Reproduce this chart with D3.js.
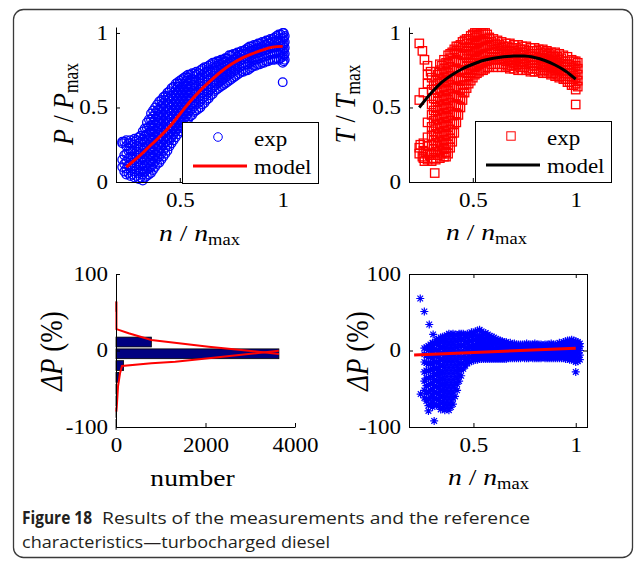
<!DOCTYPE html>
<html>
<head>
<meta charset="utf-8">
<script src="https://cdn.jsdelivr.net/npm/d3@7"></script>
<style>
  body { margin: 0; background: #fff; }
  svg { display: block; }
</style>
</head>
<body>
<svg id="fig" width="637" height="563"></svg>
<script>
// ---------------- measured data ----------------
// Power: columns of [n/nmax, [P/Pmax readings]]
const powerCols = [
  [0.22, [0.10, 0.15, 0.26, 0.27]],
  [0.23, [0.07, 0.12, 0.18, 0.27]],
  [0.24, [0.05, 0.09, 0.14, 0.19, 0.24, 0.28]],
  [0.26, [0.04, 0.08, 0.12, 0.17, 0.21, 0.26, 0.28]],
  [0.28, [0.03, 0.07, 0.11, 0.15, 0.19, 0.23, 0.27, 0.29]],
  [0.30, [0.02, 0.06, 0.10, 0.14, 0.18, 0.22, 0.26, 0.30]],
  [0.32, [0.01, 0.05, 0.09, 0.13, 0.17, 0.21, 0.25, 0.29, 0.34]],
  [0.34, [0.04, 0.08, 0.12, 0.16, 0.20, 0.24, 0.28, 0.32, 0.36, 0.40]],
  [0.36, [0.06, 0.10, 0.14, 0.18, 0.22, 0.26, 0.30, 0.34, 0.38, 0.42, 0.46]],
  [0.38, [0.10, 0.14, 0.18, 0.22, 0.26, 0.30, 0.34, 0.38, 0.42, 0.46, 0.50]],
  [0.40, [0.13, 0.17, 0.21, 0.25, 0.29, 0.33, 0.37, 0.41, 0.45, 0.49, 0.54]],
  [0.42, [0.17, 0.21, 0.25, 0.29, 0.33, 0.37, 0.41, 0.45, 0.49, 0.53, 0.57]],
  [0.44, [0.21, 0.25, 0.29, 0.33, 0.37, 0.41, 0.45, 0.49, 0.53, 0.57, 0.60]],
  [0.46, [0.26, 0.30, 0.34, 0.38, 0.42, 0.46, 0.50, 0.54, 0.58, 0.63]],
  [0.48, [0.30, 0.34, 0.38, 0.42, 0.46, 0.50, 0.54, 0.58, 0.62, 0.66]],
  [0.50, [0.34, 0.38, 0.42, 0.46, 0.50, 0.54, 0.58, 0.62, 0.66, 0.68]],
  [0.52, [0.38, 0.42, 0.46, 0.50, 0.54, 0.58, 0.62, 0.66, 0.70]],
  [0.54, [0.42, 0.46, 0.50, 0.54, 0.58, 0.62, 0.66, 0.70, 0.72]],
  [0.56, [0.45, 0.49, 0.53, 0.57, 0.61, 0.65, 0.69, 0.73]],
  [0.58, [0.48, 0.52, 0.56, 0.60, 0.64, 0.68, 0.72, 0.74]],
  [0.60, [0.50, 0.54, 0.58, 0.62, 0.66, 0.70, 0.75]],
  [0.62, [0.53, 0.57, 0.61, 0.65, 0.69, 0.73, 0.77]],
  [0.64, [0.56, 0.60, 0.64, 0.68, 0.72, 0.75, 0.78]],
  [0.66, [0.59, 0.63, 0.67, 0.71, 0.75, 0.80]],
  [0.68, [0.62, 0.66, 0.70, 0.74, 0.78, 0.81]],
  [0.70, [0.64, 0.68, 0.72, 0.76, 0.79, 0.82]],
  [0.72, [0.66, 0.70, 0.74, 0.78, 0.81, 0.83]],
  [0.74, [0.68, 0.72, 0.76, 0.80, 0.85]],
  [0.76, [0.70, 0.74, 0.78, 0.82, 0.86]],
  [0.78, [0.72, 0.76, 0.80, 0.84, 0.87]],
  [0.80, [0.74, 0.78, 0.82, 0.85, 0.88]],
  [0.82, [0.75, 0.79, 0.83, 0.86, 0.89]],
  [0.84, [0.76, 0.80, 0.84, 0.88, 0.91]],
  [0.86, [0.78, 0.82, 0.86, 0.89, 0.92]],
  [0.88, [0.79, 0.83, 0.87, 0.90, 0.93]],
  [0.90, [0.80, 0.84, 0.88, 0.91, 0.94]],
  [0.92, [0.81, 0.85, 0.89, 0.92, 0.95]],
  [0.94, [0.82, 0.86, 0.90, 0.93, 0.96]],
  [0.96, [0.82, 0.86, 0.90, 0.94, 0.97]],
  [0.98, [0.82, 0.86, 0.90, 0.94, 0.99]],
  [1.00, [0.67, 0.80, 0.84, 0.88, 0.92, 0.96, 1.00]],
  [1.01, [0.82, 0.86, 0.90, 0.94, 0.98]]
];
const powerColsMid = [
  [0.25, [0.06, 0.11, 0.16, 0.21, 0.26]],
  [0.27, [0.05, 0.09, 0.13, 0.17, 0.21, 0.25]],
  [0.29, [0.04, 0.08, 0.12, 0.16, 0.20, 0.24, 0.28]],
  [0.31, [0.03, 0.07, 0.11, 0.15, 0.19, 0.23, 0.27, 0.31]],
  [0.33, [0.03, 0.07, 0.11, 0.15, 0.19, 0.23, 0.27, 0.31, 0.36]],
  [0.35, [0.05, 0.09, 0.13, 0.17, 0.21, 0.25, 0.29, 0.33, 0.37, 0.42]],
  [0.37, [0.08, 0.12, 0.16, 0.20, 0.24, 0.28, 0.32, 0.36, 0.40, 0.44, 0.48]],
  [0.39, [0.12, 0.16, 0.20, 0.24, 0.28, 0.32, 0.36, 0.40, 0.44, 0.48, 0.52]],
  [0.41, [0.15, 0.19, 0.23, 0.27, 0.31, 0.35, 0.39, 0.43, 0.47, 0.51, 0.55]],
  [0.43, [0.19, 0.23, 0.27, 0.31, 0.35, 0.39, 0.43, 0.47, 0.51, 0.55, 0.58]],
  [0.45, [0.24, 0.28, 0.32, 0.36, 0.40, 0.44, 0.48, 0.52, 0.56, 0.61]],
  [0.47, [0.28, 0.32, 0.36, 0.40, 0.44, 0.48, 0.52, 0.56, 0.60, 0.64]],
  [0.49, [0.32, 0.36, 0.40, 0.44, 0.48, 0.52, 0.56, 0.60, 0.64, 0.67]],
  [0.51, [0.36, 0.40, 0.44, 0.48, 0.52, 0.56, 0.60, 0.64, 0.69]],
  [0.53, [0.40, 0.44, 0.48, 0.52, 0.56, 0.60, 0.64, 0.68, 0.71]],
  [0.55, [0.44, 0.48, 0.52, 0.56, 0.60, 0.64, 0.68, 0.72]],
  [0.57, [0.47, 0.51, 0.55, 0.59, 0.63, 0.67, 0.71, 0.73]],
  [0.59, [0.49, 0.53, 0.57, 0.61, 0.65, 0.69, 0.73]],
  [0.61, [0.52, 0.56, 0.60, 0.64, 0.68, 0.72, 0.76]],
  [0.63, [0.55, 0.59, 0.63, 0.67, 0.71, 0.74, 0.77]],
  [0.65, [0.58, 0.62, 0.66, 0.70, 0.74, 0.79]],
  [0.67, [0.61, 0.65, 0.69, 0.73, 0.77, 0.80]],
  [0.69, [0.63, 0.67, 0.71, 0.75, 0.79, 0.81]],
  [0.71, [0.65, 0.69, 0.73, 0.77, 0.80, 0.82]],
  [0.73, [0.67, 0.71, 0.75, 0.79, 0.83]],
  [0.75, [0.69, 0.73, 0.77, 0.81, 0.85]],
  [0.77, [0.71, 0.75, 0.79, 0.83, 0.86]],
  [0.79, [0.73, 0.77, 0.81, 0.85, 0.87]],
  [0.81, [0.74, 0.78, 0.82, 0.86, 0.88]],
  [0.83, [0.75, 0.79, 0.83, 0.87, 0.90]],
  [0.85, [0.77, 0.81, 0.85, 0.88, 0.91]],
  [0.87, [0.78, 0.82, 0.86, 0.89, 0.92]],
  [0.89, [0.79, 0.83, 0.87, 0.90, 0.93]],
  [0.91, [0.80, 0.84, 0.88, 0.92, 0.94]],
  [0.93, [0.81, 0.85, 0.89, 0.93, 0.95]],
  [0.95, [0.82, 0.86, 0.90, 0.94, 0.96]],
  [0.97, [0.83, 0.87, 0.91, 0.95, 0.98]],
  [0.99, [0.83, 0.87, 0.91, 0.95, 0.99]],
  [1.005, [0.81, 0.85, 0.89, 0.93, 0.97, 1.00]]
];
const powerModel = [
  [0.24, 0.10], [0.27, 0.135], [0.30, 0.17], [0.35, 0.235], [0.40, 0.30],
  [0.45, 0.37], [0.50, 0.455], [0.55, 0.54], [0.60, 0.615], [0.65, 0.68],
  [0.70, 0.74], [0.75, 0.79], [0.80, 0.83], [0.85, 0.86], [0.90, 0.885],
  [0.95, 0.905], [1.00, 0.91]
];

// Torque: columns of [n/nmax, [T/Tmax readings]] plus isolated readings
const torqueCols = [
  [0.24, [0.19, 0.23, 0.55]],
  [0.26, [0.16, 0.21, 0.26, 0.60]],
  [0.28, [0.15, 0.19, 0.24, 0.30, 0.40, 0.66, 0.72]],
  [0.30, [0.14, 0.19, 0.25, 0.31, 0.37, 0.45, 0.52, 0.62, 0.70]],
  [0.32, [0.15, 0.20, 0.26, 0.32, 0.38, 0.44, 0.50, 0.56, 0.62, 0.68, 0.74]],
  [0.34, [0.16, 0.21, 0.27, 0.33, 0.39, 0.45, 0.51, 0.57, 0.63, 0.69, 0.75, 0.79]],
  [0.36, [0.17, 0.22, 0.28, 0.34, 0.40, 0.46, 0.52, 0.58, 0.64, 0.70, 0.76, 0.82]],
  [0.38, [0.19, 0.25, 0.31, 0.37, 0.43, 0.49, 0.55, 0.61, 0.67, 0.73, 0.79, 0.85]],
  [0.40, [0.27, 0.33, 0.39, 0.45, 0.51, 0.57, 0.63, 0.69, 0.75, 0.81, 0.87]],
  [0.42, [0.40, 0.46, 0.52, 0.58, 0.64, 0.70, 0.76, 0.82, 0.88, 0.91]],
  [0.44, [0.50, 0.56, 0.62, 0.68, 0.74, 0.80, 0.86, 0.92]],
  [0.46, [0.60, 0.65, 0.70, 0.75, 0.80, 0.85, 0.90, 0.95]],
  [0.48, [0.66, 0.71, 0.76, 0.81, 0.86, 0.91, 0.96]],
  [0.50, [0.70, 0.75, 0.80, 0.85, 0.90, 0.95, 0.99]],
  [0.52, [0.73, 0.78, 0.83, 0.88, 0.93, 0.98, 1.00]],
  [0.54, [0.75, 0.80, 0.85, 0.90, 0.95, 1.00]],
  [0.56, [0.76, 0.81, 0.86, 0.91, 0.96, 1.00]],
  [0.58, [0.77, 0.82, 0.87, 0.92, 0.97]],
  [0.60, [0.77, 0.82, 0.87, 0.92, 0.96]],
  [0.62, [0.77, 0.82, 0.87, 0.91, 0.95]],
  [0.64, [0.77, 0.82, 0.86, 0.90, 0.94]],
  [0.66, [0.77, 0.81, 0.85, 0.89, 0.93]],
  [0.68, [0.76, 0.80, 0.84, 0.88, 0.93]],
  [0.70, [0.76, 0.80, 0.84, 0.88, 0.92]],
  [0.72, [0.75, 0.79, 0.83, 0.87, 0.92]],
  [0.74, [0.75, 0.79, 0.83, 0.87, 0.91]],
  [0.76, [0.75, 0.79, 0.83, 0.87, 0.91]],
  [0.78, [0.74, 0.78, 0.82, 0.86, 0.90]],
  [0.80, [0.74, 0.78, 0.82, 0.86, 0.90]],
  [0.82, [0.74, 0.78, 0.82, 0.86, 0.89]],
  [0.84, [0.73, 0.77, 0.81, 0.85, 0.89]],
  [0.86, [0.73, 0.77, 0.81, 0.85, 0.88]],
  [0.88, [0.72, 0.76, 0.80, 0.84, 0.87]],
  [0.90, [0.71, 0.75, 0.79, 0.83, 0.87]],
  [0.92, [0.70, 0.74, 0.78, 0.82, 0.86]],
  [0.94, [0.69, 0.73, 0.77, 0.81, 0.85]],
  [0.96, [0.67, 0.71, 0.75, 0.79, 0.84]],
  [0.98, [0.65, 0.69, 0.73, 0.77, 0.82]],
  [1.00, [0.52, 0.62, 0.66, 0.70, 0.74, 0.78, 0.81]],
  [1.01, [0.64, 0.68, 0.72, 0.76, 0.80]]
];
const torqueColsMid = [
  [0.31, [0.16, 0.22, 0.28, 0.34, 0.41, 0.48, 0.56, 0.65]],
  [0.33, [0.18, 0.24, 0.30, 0.36, 0.42, 0.48, 0.54, 0.60, 0.66, 0.72]],
  [0.35, [0.19, 0.25, 0.31, 0.37, 0.43, 0.49, 0.55, 0.61, 0.67, 0.73, 0.78]],
  [0.37, [0.20, 0.26, 0.32, 0.38, 0.44, 0.50, 0.56, 0.62, 0.68, 0.74, 0.80]],
  [0.39, [0.23, 0.29, 0.35, 0.41, 0.47, 0.53, 0.59, 0.65, 0.71, 0.77, 0.83, 0.86]],
  [0.41, [0.33, 0.39, 0.45, 0.51, 0.57, 0.63, 0.69, 0.75, 0.81, 0.86, 0.89]],
  [0.43, [0.45, 0.51, 0.57, 0.63, 0.69, 0.75, 0.81, 0.87, 0.91]],
  [0.45, [0.55, 0.60, 0.65, 0.70, 0.75, 0.80, 0.85, 0.90, 0.94]],
  [0.47, [0.63, 0.68, 0.73, 0.78, 0.83, 0.88, 0.93, 0.96]],
  [0.49, [0.68, 0.73, 0.78, 0.83, 0.88, 0.93, 0.98]],
  [0.51, [0.72, 0.77, 0.82, 0.87, 0.92, 0.97, 1.00]],
  [0.53, [0.74, 0.79, 0.84, 0.89, 0.94, 0.99]],
  [0.55, [0.75, 0.80, 0.85, 0.90, 0.95, 1.00]],
  [0.57, [0.77, 0.81, 0.86, 0.91, 0.96, 0.99]],
  [0.59, [0.79, 0.84, 0.89, 0.94]],
  [0.61, [0.79, 0.84, 0.89, 0.93]],
  [0.63, [0.79, 0.84, 0.88, 0.92]],
  [0.65, [0.79, 0.83, 0.87, 0.91]],
  [0.67, [0.78, 0.82, 0.86, 0.91]],
  [0.69, [0.78, 0.82, 0.86, 0.90]],
  [0.71, [0.78, 0.82, 0.86, 0.90]],
  [0.73, [0.77, 0.81, 0.85, 0.89]],
  [0.75, [0.77, 0.81, 0.85, 0.89]],
  [0.77, [0.76, 0.80, 0.84, 0.88]],
  [0.79, [0.76, 0.80, 0.84, 0.88]],
  [0.81, [0.76, 0.80, 0.84, 0.88]],
  [0.83, [0.75, 0.79, 0.83, 0.87]],
  [0.85, [0.75, 0.79, 0.83, 0.87]],
  [0.87, [0.74, 0.78, 0.82, 0.86]],
  [0.89, [0.73, 0.77, 0.81, 0.85]],
  [0.91, [0.72, 0.76, 0.80, 0.84]],
  [0.93, [0.71, 0.75, 0.79, 0.83]],
  [0.95, [0.69, 0.73, 0.77, 0.81]],
  [0.97, [0.67, 0.71, 0.75, 0.79]],
  [0.99, [0.65, 0.69, 0.73, 0.77, 0.81]]
];
const torqueExtra = [
  [0.24, 0.93], [0.255, 0.88], [0.265, 0.82], [0.28, 0.78], [0.295, 0.74],
  [0.315, 0.06], [0.245, 0.25], [0.255, 0.17], [0.265, 0.14], [0.27, 0.20],
  [0.29, 0.18], [0.37, 0.20], [0.37, 0.17], [0.36, 0.23]
];
const torqueModel = [
  [0.24, 0.50], [0.30, 0.60], [0.35, 0.67], [0.40, 0.72], [0.45, 0.76],
  [0.50, 0.79], [0.55, 0.815], [0.60, 0.83], [0.65, 0.84], [0.70, 0.845],
  [0.75, 0.845], [0.80, 0.835], [0.85, 0.815], [0.90, 0.785], [0.95, 0.745],
  [1.00, 0.69]
];

// Histogram of the power error
const histCenters = [57.3, 41.9, 26.5, 11.1, -4.3, -19.7, -35.1, -50.5, -65.9, -81.3, -96.7];
const histCounts  = [8, 0, 0, 790, 3640, 170, 60, 20, 8, 6, 3];
const histUpper = [[10, 64], [10, 28], [283, 22.5], [790, 13.7], [2070, 5], [2960, -0.3], [3640, -4.6]];
const histLower = [[3640, -0.3], [2960, -4.6], [2070, -10.2], [1324, -14.6], [790, -16.7],
                   [134, -20.3], [90, -29.8], [45, -47], [18, -73], [8, -80]];

// Power error vs speed: columns of [n/nmax, [ΔP %]] plus isolated readings
const errCols = [
  [0.26, [-62, -52, -40, -28, -15, -5, 3]],
  [0.28, [-72, -63, -54, -45, -36, -27, -18, -9, 0, 6]],
  [0.30, [-74, -66, -58, -50, -42, -34, -26, -18, -10, -2, 6, 10]],
  [0.32, [-71, -63, -55, -47, -39, -31, -23, -15, -7, 1, 9, 14]],
  [0.34, [-77, -69, -61, -53, -45, -37, -29, -21, -13, -5, 3, 11, 17]],
  [0.36, [-78, -70, -62, -54, -46, -38, -30, -22, -14, -6, 2, 10, 18]],
  [0.38, [-78, -70, -62, -54, -46, -38, -30, -22, -14, -6, 2, 10, 18, 22]],
  [0.40, [-70, -62, -54, -46, -38, -30, -22, -14, -6, 2, 10, 18, 22]],
  [0.42, [-52, -44, -36, -28, -20, -12, -4, 4, 12, 20]],
  [0.44, [-33, -25, -17, -9, -1, 7, 15, 22]],
  [0.46, [-20, -12, -4, 4, 12, 20]],
  [0.48, [-15, -8, -1, 6, 13, 21]],
  [0.50, [-13, -6, 1, 8, 15, 23]],
  [0.52, [-12, -5, 2, 9, 16, 26]],
  [0.54, [-11, -4, 3, 10, 17, 25]],
  [0.56, [-11, -4, 3, 10, 17, 23]],
  [0.58, [-11, -4, 3, 10, 19]],
  [0.60, [-11, -4, 3, 10, 17]],
  [0.62, [-11, -4, 3, 9, 14]],
  [0.64, [-11, -4, 3, 8, 12]],
  [0.66, [-11, -5, 1, 6, 11]],
  [0.68, [-10, -4, 2, 7, 10]],
  [0.70, [-10, -4, 2, 7, 9]],
  [0.72, [-10, -3, 3, 8]],
  [0.74, [-9, -4, 2, 8]],
  [0.76, [-10, -4, 2, 7, 9]],
  [0.78, [-9, -3, 3, 8]],
  [0.80, [-10, -4, 2, 7, 9]],
  [0.82, [-10, -3, 3, 8]],
  [0.84, [-9, -4, 2, 7]],
  [0.86, [-10, -4, 2, 8]],
  [0.88, [-10, -3, 3, 9]],
  [0.90, [-10, -4, 2, 8]],
  [0.92, [-10, -4, 2, 7, 10]],
  [0.94, [-10, -4, 2, 7, 11]],
  [0.96, [-11, -5, 1, 7, 13]],
  [0.98, [-12, -6, 0, 6, 14]],
  [1.00, [-15, -8, -2, 4, 10, 12]],
  [1.02, [-12, -6, 0, 5, 9]]
];
const errColsMid = [
  [0.27, [-66, -56, -46, -36, -26, -16, -6, 4]],
  [0.29, [-70, -61, -52, -43, -34, -25, -16, -7, 2, 8]],
  [0.31, [-70, -62, -54, -46, -38, -30, -22, -14, -6, 2, 10]],
  [0.33, [-73, -65, -57, -49, -41, -33, -25, -17, -9, -1, 7, 15]],
  [0.35, [-75, -67, -59, -51, -43, -35, -27, -19, -11, -3, 5, 13, 18]],
  [0.37, [-74, -66, -58, -50, -42, -34, -26, -18, -10, -2, 6, 14, 20]],
  [0.39, [-74, -66, -58, -50, -42, -34, -26, -18, -10, -2, 6, 14, 21]],
  [0.41, [-60, -50, -42, -34, -26, -18, -10, -2, 6, 14, 21]],
  [0.43, [-40, -32, -24, -16, -8, 0, 8, 16, 22]],
  [0.45, [-24, -16, -8, 0, 8, 16, 22]],
  [0.47, [-17, -11, -4, 3, 10, 17, 22]],
  [0.49, [-14, -9, -2, 5, 12, 19, 24]],
  [0.51, [-12, -8, -1, 6, 13, 20, 25]],
  [0.53, [-11, -8, -1, 6, 13, 20, 27]],
  [0.55, [-11, -7, 0, 7, 14, 21]],
  [0.57, [-11, -7, 0, 7, 14, 21]],
  [0.59, [-11, -7, 0, 7, 13, 18]],
  [0.61, [-11, -7, 0, 6, 12, 15]],
  [0.63, [-11, -7, -1, 5, 11, 13]],
  [0.65, [-11, -8, -1, 4, 9, 11]],
  [0.67, [-10, -7, -1, 4, 8]],
  [0.69, [-10, -7, -1, 4, 8]],
  [0.71, [-10, -7, -1, 4, 8]],
  [0.73, [-10, -7, -1, 4, 8]],
  [0.75, [-10, -7, -1, 4, 8]],
  [0.77, [-10, -7, -1, 4, 8]],
  [0.79, [-10, -7, -1, 4, 8]],
  [0.81, [-10, -7, -1, 4, 8]],
  [0.83, [-10, -7, -1, 4, 8]],
  [0.85, [-10, -7, -1, 4, 8]],
  [0.87, [-10, -7, -1, 4, 8]],
  [0.89, [-10, -7, -1, 4, 8]],
  [0.91, [-10, -7, -1, 4, 8]],
  [0.93, [-10, -7, -1, 4, 9]],
  [0.95, [-11, -7, -1, 4, 10, 12]],
  [0.97, [-12, -8, -2, 4, 10, 13]],
  [0.99, [-13, -9, -3, 3, 9, 13]],
  [1.01, [-14, -9, -3, 3, 9, 11]]
];
const errExtra = [
  [0.24, 68], [0.26, 51], [0.284, 34], [0.303, 21], [0.325, 12],
  [0.242, -57], [0.28, -79], [0.308, -92], [1.0, -28]
];
const errTrend = [[0.21, -5.9], [1.0, 2.9]];

// Tick values
const ratioTicks = [0.5, 1];
const unitTicks = [0, 0.5, 1];
const pctTicks = [-100, 0, 100];
const countTicks = [0, 2000, 4000];

// ---------------- drawing ----------------
const svg = d3.select("#fig");
const SERIF = "'Liberation Serif', 'Times New Roman', serif";
const SX = 1.15; // horizontal stretch of the serif lettering

const flatten = (...sets) => sets.flat().flatMap(([x, ys]) => ys.map(y => [x, y]));

// frame
svg.append("rect")
  .attr("x", 13.5).attr("y", 9.5).attr("width", 619).attr("height", 548)
  .attr("rx", 10).attr("fill", "#fff").attr("stroke", "#3a3a3a").attr("stroke-width", 1.3);

// scales
const xA = d3.scaleLinear().domain([0.19, 1.05]).range([116, 293]);
const xB = d3.scaleLinear().domain([0.19, 1.05]).range([409, 586]);
const yTop = d3.scaleLinear().domain([0, 1.04]).range([182, 27]);
const xC = d3.scaleLinear().domain([0, 4000]).range([116, 295]);
const xD = d3.scaleLinear().domain([0.185, 1.055]).range([409, 587]);
const yBot = d3.scaleLinear().domain([-100, 100]).range([427, 274]);

function styleAxis(g, labels) {
  g.selectAll("path.domain").attr("stroke", "#000");
  g.selectAll(".tick line").attr("stroke", "#000");
  g.selectAll("text")
    .attr("font-family", SERIF).attr("font-size", 20).attr("fill", "#000")
    .attr("transform", `scale(${SX},1)`);
  if (!labels) g.selectAll("text").remove();
}
function leftAxis(scale, x, ticks, labels = true) {
  const g = svg.append("g").attr("transform", `translate(${x},0)`)
    .call(d3.axisLeft(scale).tickValues(ticks).tickSize(-4).tickSizeOuter(0)
      .tickPadding(7).tickFormat(d => String(d)));
  styleAxis(g, labels);
  return g;
}
function bottomAxis(scale, y, ticks, labels = true) {
  const g = svg.append("g").attr("transform", `translate(0,${y})`)
    .call(d3.axisBottom(scale).tickValues(ticks).tickSize(-4).tickSizeOuter(0)
      .tickPadding(11).tickFormat(d => String(d)));
  styleAxis(g, labels);
  return g;
}

// composite label with italic symbols and a "max" subscript
function label(x, y, parts, size, rotate) {
  const t = svg.append("text")
    .attr("transform", rotate
      ? `translate(${x},${y}) scale(${SX},1) rotate(-90)`
      : `translate(${x},${y}) scale(${SX},1)`)
    .attr("font-family", SERIF).attr("font-size", size).attr("fill", "#000")
    .attr("text-anchor", rotate ? "middle" : "start");
  let shifted = 0;
  parts.forEach(p => {
    const s = t.append("tspan").text(p.t);
    if (p.i) s.attr("font-style", "italic");
    if (p.sub) { s.attr("font-size", size * 0.67).attr("dy", size * 0.17); shifted += size * 0.17; }
    else if (shifted) { s.attr("dy", -shifted); shifted = 0; }
  });
  return t;
}
const asterisk = (r => {
  const d = r * 0.7071;
  return `M${-r},0H${r}M0,${-r}V${r}M${-d},${-d}L${d},${d}M${-d},${d}L${d},${-d}`;
})(4);

// ---- Panel A: P/Pmax ----
const powerPts = flatten(powerCols, powerColsMid);
svg.append("g").selectAll("circle").data(powerPts).join("circle")
  .attr("cx", d => xA(d[0])).attr("cy", d => yTop(d[1])).attr("r", 4.3)
  .attr("fill", "none").attr("stroke", "#0000ff").attr("stroke-width", 1.3);
svg.append("path").datum(powerModel)
  .attr("d", d3.line().x(d => xA(d[0])).y(d => yTop(d[1])).curve(d3.curveMonotoneX))
  .attr("fill", "none").attr("stroke", "#ff0000").attr("stroke-width", 3);
leftAxis(yTop, 116, unitTicks);
bottomAxis(xA, 182, ratioTicks);

// ---- Panel B: T/Tmax ----
const torquePts = flatten(torqueCols, torqueColsMid).concat(torqueExtra);
svg.append("g").selectAll("rect").data(torquePts).join("rect")
  .attr("x", d => xB(d[0]) - 4.2).attr("y", d => yTop(d[1]) - 4.2)
  .attr("width", 8.4).attr("height", 8.4)
  .attr("fill", "none").attr("stroke", "#ff0000").attr("stroke-width", 1.3);
svg.append("path").datum(torqueModel)
  .attr("d", d3.line().x(d => xB(d[0])).y(d => yTop(d[1])).curve(d3.curveMonotoneX))
  .attr("fill", "none").attr("stroke", "#000").attr("stroke-width", 3);
leftAxis(yTop, 409, unitTicks);
bottomAxis(xB, 182, ratioTicks);

// ---- Panel C: histogram ----
const half = 6.4;
const bars = histCenters.map((c, i) => ({ c, n: histCounts[i] })).filter(d => d.n > 0);
svg.append("g").selectAll("rect").data(bars).join("rect")
  .attr("x", xC(0)).attr("y", d => yBot(d.c + half))
  .attr("width", d => xC(d.n) - xC(0))
  .attr("height", d => yBot(d.c - half) - yBot(d.c + half))
  .attr("fill", "#000080").attr("stroke", "#000").attr("stroke-width", 0.8);
const lineC = d3.line().x(d => xC(d[0])).y(d => yBot(d[1]));
[histUpper, histLower].forEach(s =>
  svg.append("path").datum(s).attr("d", lineC)
    .attr("fill", "none").attr("stroke", "#ff0000").attr("stroke-width", 2));
leftAxis(yBot, 116, pctTicks);
bottomAxis(xC, 427, countTicks);

// ---- Panel D: ΔP vs n ----
const errPts = flatten(errCols, errColsMid).concat(errExtra);
svg.append("g").selectAll("path").data(errPts).join("path")
  .attr("transform", d => `translate(${xD(d[0])},${yBot(d[1])})`)
  .attr("d", asterisk).attr("fill", "none").attr("stroke", "#0000ff").attr("stroke-width", 1.2);
svg.append("path").datum(errTrend)
  .attr("d", d3.line().x(d => xD(d[0])).y(d => yBot(d[1])))
  .attr("fill", "none").attr("stroke", "#ff0000").attr("stroke-width", 3);
svg.append("rect")
  .attr("x", 409.5).attr("y", 274.5).attr("width", 178).attr("height", 153)
  .attr("fill", "none").attr("stroke", "#000");
leftAxis(yBot, 409, pctTicks);
bottomAxis(xD, 427, ratioTicks);
{
  const g1 = svg.append("g").attr("transform", "translate(0,274)")
    .call(d3.axisTop(xD).tickValues(ratioTicks).tickSize(-4).tickSizeOuter(0));
  styleAxis(g1, false);
  const g2 = svg.append("g").attr("transform", "translate(587,0)")
    .call(d3.axisRight(yBot).tickValues(pctTicks).tickSize(-4).tickSizeOuter(0));
  styleAxis(g2, false);
}

// ---- legends ----
function legend(x, y, markerFn, lineColor) {
  const g = svg.append("g");
  g.append("rect").attr("x", x + 0.5).attr("y", y + 0.5).attr("width", 136).attr("height", 61)
    .attr("fill", "#fff").attr("stroke", "#000");
  markerFn(g, x + 36, y + 15);
  g.append("line").attr("x1", x + 11).attr("x2", x + 65).attr("y1", y + 44).attr("y2", y + 44)
    .attr("stroke", lineColor).attr("stroke-width", 3);
  [["exp", 24], ["model", 52]].forEach(([t, dy]) =>
    g.append("text").attr("transform", `translate(${x + 72},${y + dy}) scale(${SX},1)`)
      .attr("font-family", SERIF).attr("font-size", 20).attr("fill", "#000").text(t));
}
legend(182, 122, (g, cx, cy) => g.append("circle").attr("cx", cx).attr("cy", cy).attr("r", 4.3)
  .attr("fill", "none").attr("stroke", "#0000ff"), "#ff0000");
legend(475, 121, (g, cx, cy) => g.append("rect").attr("x", cx - 4.2).attr("y", cy - 4.2)
  .attr("width", 8.4).attr("height", 8.4).attr("fill", "none").attr("stroke", "#ff0000"), "#000");

// ---- axis titles ----
const nLabel = [{ t: "n", i: 1 }, { t: " / " }, { t: "n", i: 1 }, { t: "max", sub: 1 }];
label(159, 241, nLabel, 24, false);
label(446, 240, nLabel, 24, false);
label(448, 485, nLabel, 24, false);
label(73, 104, [{ t: "P", i: 1 }, { t: " / " }, { t: "P", i: 1 }, { t: "max", sub: 1 }], 26, true);
label(355, 104, [{ t: "T", i: 1 }, { t: " / " }, { t: "T", i: 1 }, { t: "max", sub: 1 }], 26, true);
label(62, 351, [{ t: "ΔP", i: 1 }, { t: " (%)" }], 27, true);
label(368, 351, [{ t: "ΔP", i: 1 }, { t: " (%)" }], 27, true);
svg.append("text").attr("transform", `translate(192.5,486) scale(${SX},1)`)
  .attr("text-anchor", "middle").attr("font-family", SERIF).attr("font-size", 24).text("number");

// ---- caption ----
const SANS = "'Open Sans', 'Noto Sans', sans-serif";
svg.append("text").attr("x", 22).attr("y", 524).attr("font-family", SANS).attr("font-size", 17)
  .attr("font-weight", "bold").attr("fill", "#231f20")
  .attr("textLength", 70).attr("lengthAdjust", "spacingAndGlyphs").text("Figure 18");
svg.append("text").attr("x", 102).attr("y", 524).attr("font-family", SANS).attr("font-size", 17)
  .attr("fill", "#231f20").attr("textLength", 428).attr("lengthAdjust", "spacingAndGlyphs")
  .text("Results of the measurements and the reference");
svg.append("text").attr("x", 22).attr("y", 548).attr("font-family", SANS).attr("font-size", 17)
  .attr("fill", "#231f20").attr("textLength", 308).attr("lengthAdjust", "spacingAndGlyphs")
  .text("characteristics—turbocharged diesel");
</script>
</body>
</html>
